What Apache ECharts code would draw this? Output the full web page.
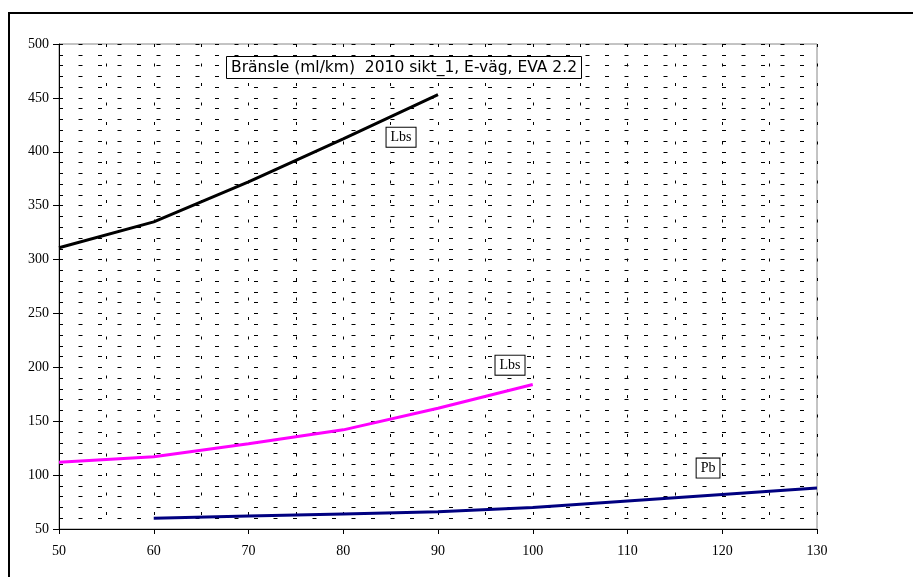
<!DOCTYPE html>
<html><head><meta charset="utf-8">
<script src="https://cdn.jsdelivr.net/npm/echarts@6/dist/echarts.min.js"></script>
<style>html,body{margin:0;padding:0;background:#fff}#c{width:913px;height:577px}</style>
</head><body><div id="c"></div>
<script>
const titleText = 'Bränsle (ml/km)  2010 sikt_1, E-väg, EVA 2.2';
const lbsHeavyX = [50, 60, 70, 80, 90];
const lbsHeavyY = [311, 335, 372, 412, 453];
const lbsX = [50, 60, 70, 80, 90, 100];
const lbsY = [112, 117, 129, 142, 162, 184];
const pbX = [60, 70, 80, 90, 100, 110, 120, 130];
const pbY = [60, 62, 64, 66, 70, 76, 82, 88];
const labelLbsHeavy = {name: 'Lbs', coord: [86.1, 413.5]};
const labelLbs = {name: 'Lbs', coord: [97.6, 202]};
const labelPb = {name: 'Pb', coord: [118.5, 106.5]};

const serif = "'Liberation Serif', 'Times New Roman', serif";
const zip = (xs, ys) => xs.map((x, i) => [x, ys[i]]);
const boxLabel = (p) => ({
  name: p.name, coord: p.coord, symbol: 'circle', symbolSize: 1,
  itemStyle: {color: 'rgba(0,0,0,0)'},
  label: {show: true, position: 'inside', formatter: p.name, color: '#000',
    fontFamily: serif, fontSize: 14, borderColor: '#000', borderWidth: 1,
    backgroundColor: '#fff', padding: [3, 4, 2, 4]}
});
const chart = echarts.init(document.getElementById('c'), null, {renderer: 'canvas'});
const hDash = {show: true, lineStyle: {color: '#000', width: 1, type: [4, 15.5]}};
const vDash = {show: true, lineStyle: {color: '#000', width: 1, type: [3, 16.5]}};
chart.setOption({
  animation: false,
  backgroundColor: '#fff',
  title: {
    text: titleText, left: 226, top: 56,
    borderColor: '#000', borderWidth: 1, backgroundColor: '#fff',
    padding: [4, 5, 3, 5],
    textStyle: {fontFamily: "'DejaVu Sans'", fontSize: 15.5, fontWeight: 'normal', color: '#000'}
  },
  graphic: [{type: 'rect', shape: {x: 9, y: 13, width: 1000, height: 1000},
    style: {fill: 'none', stroke: '#000', lineWidth: 2}, z: 100}],
  grid: {left: 59, top: 44, right: 96, bottom: 48, show: true, borderColor: '#888', borderWidth: 1, backgroundColor: 'transparent'},
  xAxis: {
    type: 'value', min: 50, max: 130, interval: 10,
    axisLine: {lineStyle: {color: '#000', width: 1}},
    axisTick: {show: true, length: 5, lineStyle: {color: '#000'}},
    axisLabel: {color: '#000', fontFamily: serif, fontSize: 14, margin: 15},
    splitLine: vDash,
    minorTick: {show: false, splitNumber: 2},
    minorSplitLine: vDash
  },
  yAxis: {
    type: 'value', min: 50, max: 500, interval: 50,
    axisLine: {show: true, lineStyle: {color: '#000', width: 1}},
    axisTick: {show: true, length: 6, lineStyle: {color: '#000'}},
    axisLabel: {color: '#000', fontFamily: serif, fontSize: 14, margin: 10},
    splitLine: hDash,
    minorTick: {show: false, splitNumber: 5},
    minorSplitLine: hDash
  },
  series: [
    {type: 'line', data: zip(lbsHeavyX, lbsHeavyY), symbol: 'none', lineStyle: {color: '#000', width: 3}, z: 5,
      markPoint: {data: [boxLabel(labelLbsHeavy)]}},
    {type: 'line', data: zip(lbsX, lbsY), symbol: 'none', lineStyle: {color: '#ff00ff', width: 3}, z: 5,
      markPoint: {data: [boxLabel(labelLbs)]}},
    {type: 'line', data: zip(pbX, pbY), symbol: 'none', lineStyle: {color: '#000080', width: 3}, z: 5,
      markPoint: {data: [boxLabel(labelPb)]}}
  ]
});
</script></body></html>
